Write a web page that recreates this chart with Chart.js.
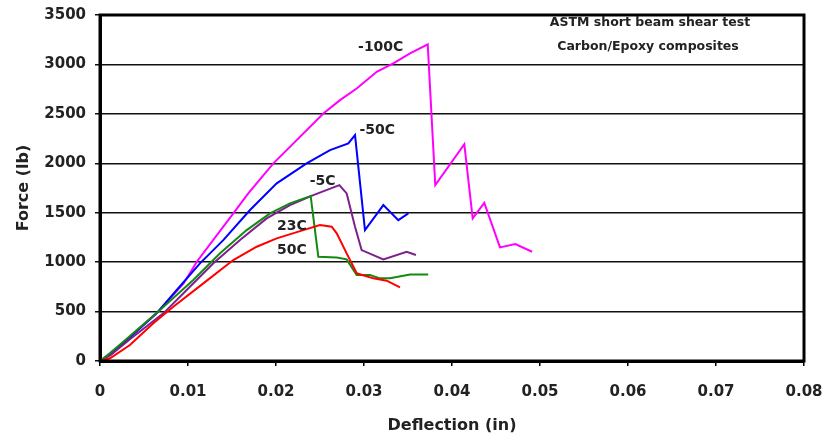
<!DOCTYPE html>
<html>
<head>
<meta charset="utf-8">
<script src="https://cdn.jsdelivr.net/npm/chart.js@4"></script>
<style>
	body { margin: 0; background: #fff; }
</style>
</head>
<body>
<canvas id="chart" width="825" height="439"></canvas>
<script>
// deflection (in) / force (lb)
const m100Defl = [0, 0.0012, 0.0034, 0.0064, 0.0095, 0.011, 0.01515, 0.01685, 0.0197, 0.02235, 0.02538, 0.02727, 0.02917, 0.03144, 0.03333, 0.03523, 0.03724, 0.0381, 0.0414, 0.04235, 0.04367, 0.04545, 0.0472, 0.0491];
const m100Force = [0, 70, 240, 480, 785, 1004, 1493, 1695, 1999, 2234, 2504, 2639, 2757, 2925, 3010, 3111, 3202, 1779, 2194, 1442, 1600, 1149, 1183, 1105];

const m50Defl = [0, 0.0012, 0.0034, 0.0064, 0.00872, 0.01136, 0.01401, 0.01705, 0.02008, 0.02348, 0.02614, 0.02822, 0.02898, 0.03011, 0.0322, 0.0339, 0.03504];
const m50Force = [0, 70, 240, 480, 718, 988, 1223, 1527, 1797, 1999, 2133, 2201, 2285, 1324, 1577, 1425, 1493];

const m5Defl = [0, 0.0012, 0.0034, 0.0072, 0.00985, 0.01288, 0.01591, 0.01894, 0.02159, 0.02424, 0.0272, 0.02803, 0.02898, 0.02973, 0.0322, 0.03485, 0.0359];
const m5Force = [0, 60, 220, 482, 718, 988, 1223, 1442, 1577, 1678, 1779, 1695, 1358, 1122, 1028, 1105, 1072];

const p23Defl = [0, 0.00114, 0.00265, 0.00682, 0.0106, 0.01364, 0.01667, 0.01932, 0.02159, 0.02394, 0.02481, 0.0269, 0.02803, 0.02917, 0.03068, 0.03182, 0.03295, 0.03523, 0.0373];
const p23Force = [0, 80, 195, 516, 819, 1089, 1324, 1493, 1594, 1668, 1055, 1048, 1028, 869, 869, 836, 836, 876, 876];

const p50Defl = [0, 0.00114, 0.0034, 0.00606, 0.00833, 0.01174, 0.01515, 0.01781, 0.02008, 0.0231, 0.025, 0.02633, 0.0269, 0.02803, 0.02917, 0.03106, 0.03258, 0.03409];
const p50Force = [0, 27, 162, 381, 549, 785, 1021, 1156, 1240, 1324, 1375, 1358, 1291, 1089, 887, 836, 812, 745];

// curve labels, placed at data coordinates
const curveNames = ['-100C', '-50C', '-5C', '23C', '50C'];
const labelDefl = [0.0319, 0.0315, 0.0253, 0.0218, 0.0218];
const labelForce = [3175, 2335, 1813, 1358, 1115];

const noteLines = ['ASTM short beam shear test', 'Carbon/Epoxy composites'];

const xTicks = [0, 0.01, 0.02, 0.03, 0.04, 0.05, 0.06, 0.07, 0.08];

const font = 'DejaVu Sans';

const toPoints = (xs, ys) => xs.map((x, i) => ({ x: x, y: ys[i] }));

const curve = (label, xs, ys, color, order) => ({
	label: label,
	data: toPoints(xs, ys),
	borderColor: color,
	backgroundColor: color,
	borderWidth: 2,
	pointRadius: 0,
	showLine: true,
	tension: 0,
	order: order
});

// frame, note box text and curve labels
const decorations = {
	id: 'decorations',
	afterDatasetsDraw(chart) {
		const { ctx, chartArea: a, scales } = chart;
		ctx.save();
		ctx.strokeStyle = '#000';
		ctx.lineWidth = 3;
		ctx.strokeRect(a.left, a.top, a.right - a.left, a.bottom - a.top);

		ctx.fillStyle = '#222';
		ctx.textAlign = 'center';
		ctx.textBaseline = 'middle';
		ctx.font = 'bold 14px ' + font;
		curveNames.forEach((name, i) => {
			ctx.fillText(name, scales.x.getPixelForValue(labelDefl[i]), scales.y.getPixelForValue(labelForce[i]));
		});

		ctx.font = 'bold 12.5px ' + font;
		ctx.fillText(noteLines[0], 650, 23);
		ctx.fillText(noteLines[1], 648, 47);
		ctx.restore();
	}
};

const ctx = document.getElementById('chart');

new Chart(ctx, {
	type: 'scatter',
	data: {
		datasets: [
			curve('-100C', m100Defl, m100Force, '#ff00ff', 5),
			curve('-50C', m50Defl, m50Force, '#0000ff', 4),
			curve('-5C', m5Defl, m5Force, '#7f1f8f', 3),
			curve('23C', p23Defl, p23Force, '#128a12', 2),
			curve('50C', p50Defl, p50Force, '#ff0000', 1)
		]
	},
	options: {
		responsive: false,
		animation: false,
		layout: { padding: { top: 15, right: 21, left: 0, bottom: 0 } },
		plugins: {
			legend: { display: false },
			tooltip: { enabled: false }
		},
		scales: {
			x: {
				type: 'linear',
				min: 0,
				max: 0.08,
				afterFit: (scale) => {
					scale.height = 78;
					scale.paddingLeft = 0;
					scale.paddingRight = 0;
				},
				afterBuildTicks: (scale) => { scale.ticks = xTicks.map((v) => ({ value: v })); },
				grid: { drawOnChartArea: false, drawTicks: true, tickLength: 5, color: '#000', lineWidth: 1.5 },
				border: { display: true, color: '#000', width: 3 },
				ticks: {
					color: '#222',
					padding: 17,
					maxRotation: 0,
					font: { family: font, weight: 'bold', size: 15 },
					callback: (v) => String(v)
				},
				title: {
					display: true,
					text: 'Deflection (in)',
					color: '#222',
					font: { family: font, weight: 'bold', size: 16 },
					padding: { top: 4, bottom: 4 }
				}
			},
			y: {
				min: 0,
				max: 3500,
				afterFit: (scale) => {
					scale.width = 100;
					scale.paddingTop = 0;
					scale.paddingBottom = 0;
				},
				grid: { color: '#111', lineWidth: 1.5, tickLength: 5 },
				border: { display: true, color: '#000', width: 3 },
				ticks: {
					stepSize: 500,
					color: '#222',
					padding: 9,
					font: { family: font, weight: 'bold', size: 15 },
					callback: (v) => String(v)
				},
				title: {
					display: true,
					text: 'Force (lb)',
					color: '#222',
					font: { family: font, weight: 'bold', size: 16 },
					padding: { top: 14, bottom: 0 }
				}
			}
		}
	},
	plugins: [decorations]
});
</script>
</body>
</html>
